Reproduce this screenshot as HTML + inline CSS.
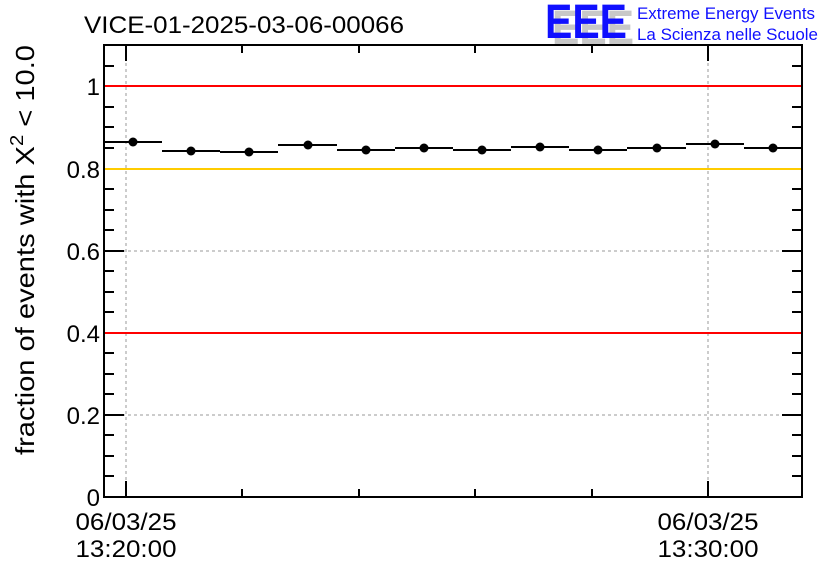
<!DOCTYPE html>
<html><head><style>body{margin:0;background:#fff}</style></head><body>
<svg width="836" height="572" xmlns="http://www.w3.org/2000/svg" font-family="Liberation Sans, sans-serif">
<rect width="836" height="572" fill="#fff"/>
<text x="84" y="33" font-size="24" textLength="320" lengthAdjust="spacingAndGlyphs">VICE-01-2025-03-06-00066</text>
<g font-size="48" font-weight="bold" font-family="Liberation Sans, sans-serif">
<text x="552" y="44" fill="#c8c8c8" textLength="82" lengthAdjust="spacingAndGlyphs">EEE</text>
<text x="545" y="38" fill="#1010ff" textLength="82" lengthAdjust="spacingAndGlyphs">EEE</text>
</g>
<text x="637" y="19" font-size="16.5" fill="#1010ff" textLength="178" lengthAdjust="spacingAndGlyphs">Extreme Energy Events</text>
<text x="637" y="40" font-size="16.5" fill="#1010ff" textLength="181" lengthAdjust="spacingAndGlyphs">La Scienza nelle Scuole</text>
<g stroke="#999" stroke-dasharray="3,3" stroke-width="1">
<line x1="126" y1="45" x2="126" y2="497"/><line x1="708" y1="45" x2="708" y2="497"/>
<line x1="104" y1="415" x2="802" y2="415"/><line x1="104" y1="251" x2="802" y2="251"/>
</g>
<g stroke="#000" stroke-width="2">
<rect x="104" y="45" width="698" height="452" fill="none"/>
<path d="M104 415h20M104 333h20M104 251h20M104 169h20M104 86h20M802 415h-20M802 333h-20M802 251h-20M802 169h-20M802 86h-20"/>
<path d="M104 476h10M104 456h10M104 435h10M104 394h10M104 374h10M104 353h10M104 312h10M104 292h10M104 271h10M104 230h10M104 210h10M104 189h10M104 148h10M104 127h10M104 107h10M104 66h10"/>
<path d="M802 476h-10M802 456h-10M802 435h-10M802 394h-10M802 374h-10M802 353h-10M802 312h-10M802 292h-10M802 271h-10M802 230h-10M802 210h-10M802 189h-10M802 148h-10M802 127h-10M802 107h-10M802 66h-10"/>
<path d="M126 497v-16M708 497v-16M242 497v-8M359 497v-8M475 497v-8M592 497v-8M126 45v16M708 45v16M242 45v8M359 45v8M475 45v8M592 45v8"/>
</g>
<g stroke-width="2">
<line x1="105" y1="86" x2="801" y2="86" stroke="#f00"/>
<line x1="105" y1="333" x2="801" y2="333" stroke="#f00"/>
<line x1="105" y1="169" x2="801" y2="169" stroke="#fc0"/>
</g>
<path stroke="#000" stroke-width="2" d="M104 142h58M162 151h58M220 152h58M278 145h59M337 150h58M395 148h58M453 150h58M511 147h58M569 150h58M627 148h59M686 144h58M744 148h58"/>
<g fill="#000">
<circle cx="133" cy="142" r="4.5"/><circle cx="191" cy="151" r="4.5"/><circle cx="249" cy="152" r="4.5"/><circle cx="308" cy="145" r="4.5"/><circle cx="366" cy="150" r="4.5"/><circle cx="424" cy="148" r="4.5"/><circle cx="482" cy="150" r="4.5"/><circle cx="540" cy="147" r="4.5"/><circle cx="598" cy="150" r="4.5"/><circle cx="657" cy="148" r="4.5"/><circle cx="715" cy="144" r="4.5"/><circle cx="773" cy="148" r="4.5"/>
</g>
<g font-size="24" text-anchor="end">
<text x="100" y="506">0</text><text x="100" y="424">0.2</text><text x="100" y="342">0.4</text><text x="100" y="260">0.6</text><text x="100" y="178">0.8</text><text x="100" y="95">1</text>
</g>
<g font-size="24" text-anchor="middle">
<text x="126" y="530" textLength="101" lengthAdjust="spacingAndGlyphs">06/03/25</text><text x="126" y="557" textLength="101" lengthAdjust="spacingAndGlyphs">13:20:00</text>
<text x="708" y="530" textLength="101" lengthAdjust="spacingAndGlyphs">06/03/25</text><text x="708" y="557" textLength="101" lengthAdjust="spacingAndGlyphs">13:30:00</text>
</g>
<text transform="translate(34,455) rotate(-90)" font-size="26" textLength="410" lengthAdjust="spacingAndGlyphs">fraction of events with X<tspan dy="-11" font-size="18">2</tspan><tspan dy="11"> &lt; 10.0</tspan></text>
</svg>
</body></html>
